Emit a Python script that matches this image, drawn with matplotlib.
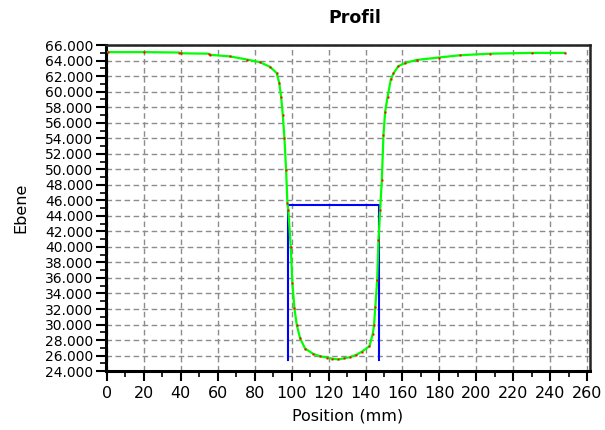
import numpy as np
import matplotlib
matplotlib.use("Agg")
import matplotlib.pyplot as plt
from matplotlib.ticker import MultipleLocator, FormatStrFormatter

# profile points (position mm, Ebene)
pos = [0.7, 20, 39.0, 40.0, 55.0, 56.0, 66.6, 75.7, 82.9, 88.3, 91.9, 93.3, 94.3,
       95.2, 96.1, 97.0, 97.7, 98.2, 99.5, 100.4, 101.5, 102.8, 104.6, 107.3,
       111.8, 115.5, 119.0, 122.0, 125.3, 128.5, 131.6, 135.0, 138.0, 142.1, 143.9,
       144.6, 145.3, 146.3, 147.0, 147.9, 148.8, 149.7, 150.6, 151.9, 153.7,
       155.1, 157.8, 161.4, 167.8, 179.5, 191.2, 207.5, 230.0, 248.0]
ebene = [65.1, 65.1, 65.05, 64.95, 64.9, 64.75, 64.55, 64.15, 63.8, 63.2, 62.4, 61.1, 59.3,
         57.0, 54.0, 49.9, 45.6, 44.7, 40.0, 35.3, 32.1, 29.9, 28.2, 26.9,
         26.2, 25.9, 25.75, 25.6, 25.5, 25.65, 25.8, 26.1, 26.5, 27.2, 28.8,
         29.9, 32.3, 35.7, 40.9, 44.7, 48.6, 54.4, 57.4, 59.3, 61.6,
         62.35, 63.3, 63.7, 64.1, 64.4, 64.7, 64.9, 65.0, 65.0]

# blue window (open at the bottom)
win_x = [97.8, 97.8, 147.1, 147.1]
win_y = [25.4, 45.4, 45.4, 25.4]

fig = plt.figure(figsize=(6.05, 4.3), dpi=100)
ax = fig.add_axes([0.1752, 0.137, 0.8, 0.758])

ax.plot(win_x, win_y, color="#0000ff", lw=1.5, zorder=3)
ax.plot(pos, ebene, color="#00ff00", lw=1.6, zorder=4)
ax.plot(pos, ebene, ls="none", marker="s", ms=1.6, mec="none", mfc="#ff0000", zorder=5)

ax.set_xlim(-0.5, 261.5)
ax.set_ylim(24, 66)
ax.xaxis.set_major_locator(MultipleLocator(20))
ax.xaxis.set_minor_locator(MultipleLocator(10))
ax.yaxis.set_major_locator(MultipleLocator(2))
ax.yaxis.set_minor_locator(MultipleLocator(1))
ax.yaxis.set_major_formatter(FormatStrFormatter("%.3f"))

ax.grid(True, which="major", color="#8c8c8c", ls=(0, (4, 2.5)), lw=1.0)
ax.tick_params(which="major", length=7, width=1.5, pad=2)
ax.tick_params(which="minor", length=4, width=1.2)
ax.tick_params(axis="y", which="major", labelsize=10)
ax.tick_params(axis="x", which="major", labelsize=11.5, pad=4)

for side in ["left", "bottom"]:
    ax.spines[side].set_linewidth(2.2)
for side in ["top", "right"]:
    ax.spines[side].set_linewidth(1.8)
    ax.spines[side].set_color("#222222")

ax.set_title("Profil", fontsize=12.5, fontweight="bold", x=0.515, pad=16)
ax.set_xlabel("Position (mm)", fontsize=11.5, labelpad=5)
ax.set_ylabel("Ebene", fontsize=11.5, labelpad=12)

fig.savefig("out.png", dpi=100)
